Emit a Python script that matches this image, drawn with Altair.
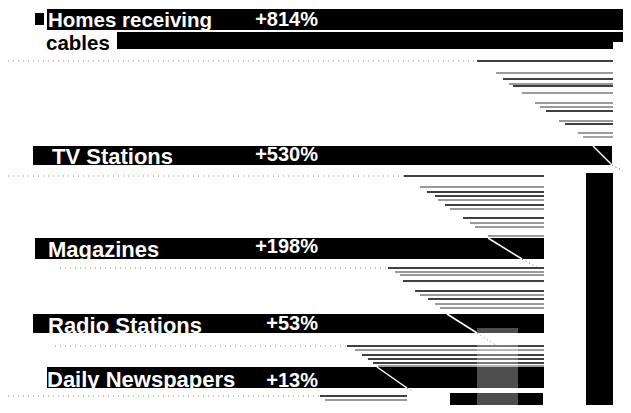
import altair as alt
import pandas as pd

# ---- data (units = picture pixels) ----
# label bands
band_x0 = [47, 117, 117, 33, 35, 33, 47]
band_x1 = [623, 623, 613, 612, 544, 544, 544]
band_y0 = [9, 32, 42, 146, 238, 314, 367]
band_y1 = [30, 42, 49, 165, 259, 333, 388]

# label text (x start and baseline)
label_text = ["Homes receiving", "cables", "TV Stations", "Magazines", "Radio Stations", "Daily Newspapers"]
label_x = [48, 46, 52, 48, 48, 47]
label_y = [27, 50, 164, 257, 333, 387]
label_size = [20.5, 20.5, 22, 22, 22, 22]
label_on_band = [True, False, True, True, True, True]

pct_text = ["+814%", "+530%", "+198%", "+53%", "+13%"]
pct_y = [26, 161, 253, 330, 387]

# staircase lines: (y, start, end, tone)
line_y = [61, 73, 79, 84, 86, 93, 103, 107, 111, 121, 124, 133, 137,
          176, 187, 192, 196, 200, 205, 209, 218, 223, 227, 236,
          268, 272, 275, 281, 291, 295, 299, 304, 308,
          346, 350, 355, 359, 363, 366,
          396, 400, 409]
line_x0 = [477, 496, 503, 509, 513, 522, 535, 540, 546, 559, 565, 578, 583,
           404, 420, 427, 435, 438, 445, 450, 463, 470, 475, 488,
           388, 395, 400, 403, 415, 420, 428, 435, 440,
           347, 355, 362, 368, 373, 378,
           320, 325, 338]
line_x1 = [613] * 13 + [544] * 11 + [544] * 9 + [544] * 6 + [407] * 3
line_tone = ["k", "g", "k", "g", "k", "g", "g", "g", "k", "g", "k", "g", "g",
             "k", "g", "k", "k", "g", "k", "g", "k", "g", "g", "g",
             "k", "g", "g", "k", "k", "g", "k", "g", "g",
             "k", "g", "k", "k", "k", "g",
             "k", "g", "k"]

# dotted lead-in lines
dot_y = [61, 176, 268, 346, 396]
dot_x0 = [8, 8, 60, 55, 8]
dot_x1 = [477, 404, 388, 347, 320]

# white diagonal cuts in bands and their dotted continuation
diag_x0 = [593, 488, 447, 377]
diag_y0 = [146, 238, 314, 367]
diag_x1 = [612, 522, 477, 407]
diag_y1 = [165, 259, 333, 388]
ext_x1 = [623, 540, 500, 412]
ext_y1 = [171, 269, 348, 391]

# extra blocks
blk_x0 = [586, 450, 35]
blk_x1 = [613, 543, 44]
blk_y0 = [173, 393, 13]
blk_y1 = [413, 413, 25]

dith_x0, dith_x1, dith_y0, dith_y1 = [477], [518], [328], [413]

# ---- chart ----
XS = alt.Scale(domain=[8, 623], nice=False, zero=False)
YS = alt.Scale(domain=[8, 405], nice=False, zero=False, reverse=True)


def xq(f):
    return alt.X(f"{f}:Q", scale=XS, axis=None)


def yq(f):
    return alt.Y(f"{f}:Q", scale=YS, axis=None)


bands = pd.DataFrame({"x0": band_x0, "x1": band_x1, "y0": band_y0, "y1": band_y1})
blocks = pd.DataFrame({"x0": blk_x0, "x1": blk_x1, "y0": blk_y0, "y1": blk_y1})
dith = pd.DataFrame({"x0": dith_x0, "x1": dith_x1, "y0": dith_y0, "y1": dith_y1})
lines = pd.DataFrame({"y": line_y, "x0": line_x0, "x1": line_x1, "t": line_tone})
dots = pd.DataFrame({"y": dot_y, "x0": dot_x0, "x1": dot_x1})
diags = pd.DataFrame({"x0": diag_x0, "y0": diag_y0, "x1": diag_x1, "y1": diag_y1,
                      "ex": ext_x1, "ey": ext_y1})
labels = pd.DataFrame({"t": label_text, "x": label_x, "y": label_y, "s": label_size,
                       "o": label_on_band})
pcts = pd.DataFrame({"t": pct_text, "x": [318] * 5, "y": pct_y})

band_layer = alt.Chart(bands).mark_rect(color="black", clip=True).encode(
    x=xq("x0"), x2="x1", y=yq("y0"), y2="y1")
block_layer = alt.Chart(blocks).mark_rect(color="black", clip=True).encode(
    x=xq("x0"), x2="x1", y=yq("y0"), y2="y1")
dith_layer = alt.Chart(dith).mark_rect(color="white", opacity=0.3, clip=True).encode(
    x=xq("x0"), x2="x1", y=yq("y0"), y2="y1")

black_lines = alt.Chart(lines).transform_filter("datum.t == 'k'").mark_rule(
    color="black", strokeWidth=1.3, clip=True).encode(x=xq("x0"), x2="x1", y=yq("y"))
gray_lines = alt.Chart(lines).transform_filter("datum.t == 'g'").mark_rule(
    color="#9a9a9a", strokeWidth=1.8, clip=True).encode(x=xq("x0"), x2="x1", y=yq("y"))
dot_lines = alt.Chart(dots).mark_rule(
    color="#8a8a8a", strokeWidth=1, strokeDash=[1, 4], clip=True).encode(x=xq("x0"), x2="x1", y=yq("y"))

diag_layer = alt.Chart(diags).mark_rule(color="white", strokeWidth=1.5, clip=True).encode(
    x=xq("x0"), x2="x1", y=yq("y0"), y2="y1")
ext_layer = alt.Chart(diags).mark_rule(
    color="#555555", strokeWidth=1, strokeDash=[1, 3], clip=True).encode(
    x=xq("x1"), x2="ex", y=yq("y1"), y2="ey")

label_white = alt.Chart(labels).transform_filter("datum.o").mark_text(
    align="left", baseline="alphabetic", font="Liberation Sans",
    fontWeight="bold", color="white").encode(
    x=xq("x"), y=yq("y"), text="t:N", size=alt.Size("s:Q", scale=None))
label_black = alt.Chart(labels).transform_filter("!datum.o").mark_text(
    align="left", baseline="alphabetic", font="Liberation Sans",
    fontWeight="bold", color="black").encode(
    x=xq("x"), y=yq("y"), text="t:N", size=alt.Size("s:Q", scale=None))
pct_layer = alt.Chart(pcts).mark_text(
    align="right", baseline="alphabetic", font="Liberation Sans",
    fontSize=20, fontWeight="bold", color="white").encode(x=xq("x"), y=yq("y"), text="t:N")

chart = alt.layer(
    band_layer, block_layer, black_lines, gray_lines, dot_lines,
    diag_layer, ext_layer, dith_layer, label_white, label_black, pct_layer
).properties(width=615, height=397, padding=0, autosize=alt.AutoSizeParams(type="none")
).configure_view(stroke=None)

chart.save("out.html", embed_options={"renderer": "svg", "actions": False})
